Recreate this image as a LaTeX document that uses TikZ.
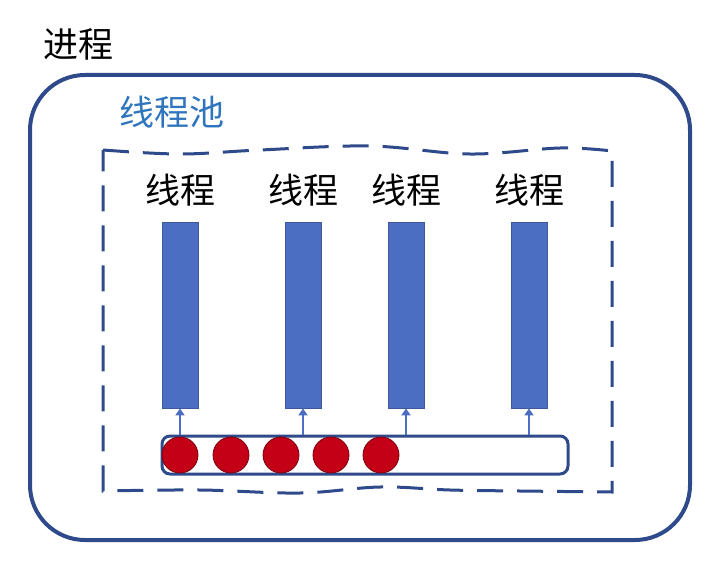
\documentclass[tikz,border=0pt]{standalone}
\usepackage{fontspec}
\newfontfamily\cjk{Noto Sans CJK SC}
\usetikzlibrary{positioning,arrows.meta}
\definecolor{edgeblue}{RGB}{47,74,138}
\definecolor{barblue}{RGB}{76,110,194}
\definecolor{poolblue}{RGB}{46,117,190}
\definecolor{taskred}{RGB}{196,0,22}
\tikzset{
  label/.style={font=\cjk\fontsize{35}{37}\selectfont, inner sep=0pt},
  bar/.style={draw=barblue!80!black, fill=barblue, line width=0.8pt, minimum width=36pt, minimum height=186pt, inner sep=0pt},
  task/.style={circle, draw=taskred!60!black, fill=taskred, line width=0.8pt, minimum size=36pt, inner sep=0pt},
  feed/.style={draw=barblue, line width=2pt, -{Triangle[length=7pt,width=9pt]}},
}
\begin{document}
\begin{tikzpicture}[x=1pt, y=-1pt]
\useasboundingbox (0,0) rectangle (727,567);
% process box
\node (proc) [label, anchor=west] at (43,44) {进程};
\draw[edgeblue, line width=4pt, rounded corners=55pt] (30,75) rectangle (690,540);
% thread pool
\node (pool) [label, text=poolblue, anchor=west] at (119,112) {线程池};
\draw[edgeblue, line width=3pt, dash pattern=on 26pt off 14pt]
  plot[smooth, tension=0.6] coordinates {(103,150) (180,154) (260,150) (370,146) (470,154) (560,148) (612,151)}
  -- (612,492)
  -- plot[smooth, tension=0.6] coordinates {(612,492) (520,491) (450,490) (380,487) (300,493) (200,490) (103,491)}
  -- cycle;
% threads
\node (t1) [bar] at (180,315) {};
\node (t2) [bar] at (303,315) {};
\node (t3) [bar] at (406,315) {};
\node (t4) [bar] at (529,315) {};
\foreach \i in {1,...,4}
  \node (l\i) [label, above=15pt of t\i] {线程};
% task queue
\node (queue) [draw=edgeblue, line width=3pt, rounded corners=8pt, minimum width=406pt, minimum height=38pt, inner sep=0pt] at (365,455) {};
\foreach \x [count=\i] in {180,231,281,331,381}
  \node (c\i) [task] at (\x,455) {};
\foreach \i in {1,...,4}
  \draw[feed] (queue.north -| t\i.south) -- (t\i.south);
\end{tikzpicture}
\end{document}
